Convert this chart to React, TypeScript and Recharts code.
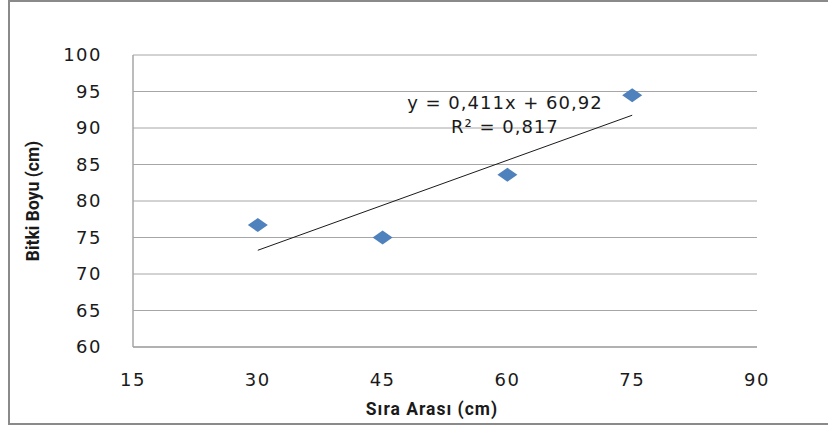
import React from "react";
import {
  ScatterChart, Scatter, XAxis, YAxis, CartesianGrid,
  ReferenceLine, ReferenceDot, Label,
} from "recharts";

// Sıra arası (cm) vs bitki boyu (cm)
const rowSpacing = [30, 45, 60, 75];
const plantHeight = [76.7, 75.0, 83.6, 94.5];

// linear trend line end points
const trendX = [30, 75];
const trendY = [73.25, 91.75];
const trendText = ["y = 0,411x + 60,92", "R² = 0,817"];
const trendLabelAt = { x: 59.7, y: 91.8 };

const xTicks = [15, 30, 45, 60, 75, 90];
const yTicks = [60, 65, 70, 75, 80, 85, 90, 95, 100];

const data = rowSpacing.map((x, i) => ({ x, y: plantHeight[i] }));

const tickFont = {
  fill: "#1a1a1a", fontSize: 18, fontFamily: "DejaVu Sans, sans-serif", letterSpacing: 1.5,
};
const titleFont = "Roboto, Arial, sans-serif";

const Diamond = (props: { cx?: number; cy?: number }) => {
  const { cx = 0, cy = 0 } = props;
  const hw = 10, hh = 7;
  return (
    <polygon
      points={`${cx - hw},${cy} ${cx},${cy - hh} ${cx + hw},${cy} ${cx},${cy + hh}`}
      fill="#4f81bd"
    />
  );
};

export default function App() {
  return (
    <div style={{ position: "relative", width: 828, height: 428, overflow: "hidden", background: "#fff" }}>
      <style>{"body{margin:0}"}</style>
      <div style={{
        position: "absolute", left: 8, top: 0, width: 900, height: 421,
        border: "2px solid #8a8a8a", borderRight: "none",
      }} />
      <div style={{ position: "absolute", left: 0, top: 0 }}>
        <ScatterChart width={828} height={428} margin={{ top: 55, right: 71, bottom: 0, left: 0 }}>
          <CartesianGrid vertical={false} stroke="#a6a6a6" strokeWidth={1} />
          <XAxis
            type="number"
            dataKey="x"
            domain={[15, 90]}
            ticks={xTicks}
            height={81}
            tick={tickFont}
            tickLine={false}
            tickSize={0}
            tickMargin={26}
            axisLine={{ stroke: "#a6a6a6", strokeWidth: 1.5 }}
          >
            <Label
              content={({ viewBox }: any) => (
                <text
                  x={viewBox.x + viewBox.width / 2 - 13}
                  y={viewBox.y + 62}
                  textAnchor="middle"
                  dominantBaseline="central"
                  fontFamily={titleFont}
                  fontWeight="bold"
                  fontSize={17.5}
                  letterSpacing={1}
                  fill="#1a1a1a"
                >
                  Sıra Arası (cm)
                </text>
              )}
            />
          </XAxis>
          <YAxis
            type="number"
            dataKey="y"
            domain={[60, 100]}
            ticks={yTicks}
            width={133}
            tick={tickFont}
            tickLine={false}
            tickSize={0}
            tickMargin={31}
            axisLine={{ stroke: "#a6a6a6", strokeWidth: 1.5 }}
          >
            <Label
              content={({ viewBox }: any) => {
                const cx = viewBox.x + 33;
                const cy = viewBox.y + viewBox.height / 2;
                return (
                  <text
                    x={cx}
                    y={cy}
                    transform={`rotate(-90, ${cx}, ${cy})`}
                    textAnchor="middle"
                    dominantBaseline="central"
                    fontFamily={titleFont}
                    fontWeight="bold"
                    fontSize={17.5}
                    fill="#1a1a1a"
                  >
                    Bitki Boyu (cm)
                  </text>
                );
              }}
            />
          </YAxis>
          <ReferenceLine
            segment={[
              { x: trendX[0], y: trendY[0] },
              { x: trendX[1], y: trendY[1] },
            ]}
            stroke="#1a1a1a"
            strokeWidth={1}
          />
          <Scatter data={data} shape={<Diamond />} isAnimationActive={false} />
          <ReferenceDot
            x={trendLabelAt.x}
            y={trendLabelAt.y}
            r={0}
            stroke="none"
            fill="none"
            label={{
              content: ({ viewBox }: any) => (
                <g>
                  {trendText.map((t, i) => (
                    <text
                      key={t}
                      x={viewBox.x}
                      y={viewBox.y - 12 + i * 24}
                      textAnchor="middle"
                      dominantBaseline="central"
                      fontFamily="DejaVu Sans, sans-serif"
                      fontSize={18}
                      letterSpacing={1}
                      fill="#1a1a1a"
                    >
                      {t}
                    </text>
                  ))}
                </g>
              ),
            }}
          />
        </ScatterChart>
      </div>
    </div>
  );
}
